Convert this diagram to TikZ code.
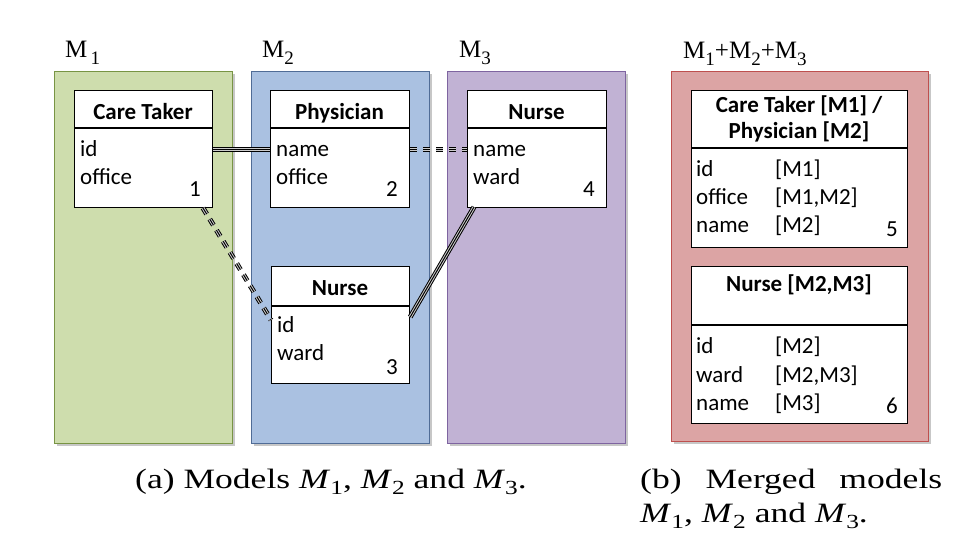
\documentclass[tikz,border=0pt]{standalone}
\usepackage{fontspec}
\setmainfont{Liberation Serif}
\newfontfamily\calfont{Carlito}
\usetikzlibrary{calc}
\definecolor{gfill}{RGB}{206,221,173}
\definecolor{gdraw}{RGB}{120,148,68}
\definecolor{bfill}{RGB}{170,193,225}
\definecolor{bdraw}{RGB}{80,108,150}
\definecolor{pfill}{RGB}{193,178,212}
\definecolor{pdraw}{RGB}{126,100,160}
\definecolor{rfill}{RGB}{220,164,164}
\definecolor{rdraw}{RGB}{190,80,78}
\newcommand\Msub[1]{M\raisebox{-0.3em}{\fontsize{19}{20}\selectfont #1}}
\newcommand\Mit[1]{\textit{M}\raisebox{-0.22em}{\fontsize{20}{20}\selectfont #1}}
\begin{document}
\begin{tikzpicture}[x=1pt,y=-1pt,
  model/.style={draw, line width=1.1pt, rectangle, anchor=north west, inner sep=0pt,
    minimum width=178pt, minimum height=372pt},
  shadowed/.style={preaction={fill=black!22, transform canvas={xshift=2.5pt,yshift=-2.5pt}}},
  cls/.style={draw=black, fill=white, line width=1.2pt, rectangle, anchor=north west, inner sep=0pt},
  attr/.style={anchor=base west, inner sep=0pt, font=\calfont\fontsize{23}{26}\selectfont},
  num/.style={anchor=base east, inner sep=0pt, font=\calfont\fontsize{23}{26}\selectfont},
  head/.style={anchor=base, inner sep=0pt, font=\calfont\bfseries\fontsize{23}{26}\selectfont},
  mlabel/.style={anchor=base west, inner sep=0pt, font=\fontsize{25}{28}\selectfont},
  captext/.style={anchor=base west, inner sep=0pt, font=\fontsize{28}{32}\selectfont},
  triple/.style={line width=5pt, black, postaction={draw, black!20, line width=3pt}, postaction={draw, black, line width=1pt}},
  triplesolid/.style={triple},
  tripledash/.style={triple, dash pattern=on 7pt off 6pt}
]
\useasboundingbox (0,0) rectangle (969,542);

% model frames
\node[model, shadowed, fill=gfill, draw=gdraw] (m1) at (54,71) {};
\node[model, shadowed, fill=bfill, draw=bdraw] (m2) at (251,71) {};
\node[model, shadowed, fill=pfill, draw=pdraw] (m3) at (447,71) {};
\node[model, shadowed, fill=rfill, draw=rdraw, minimum width=257pt, minimum height=370pt] (mm) at (671,71) {};

% model labels
\node[mlabel] (l1) at (65,57) {\Msub{\,1}};
\node[mlabel] (l2) at (262,57) {\Msub{2}};
\node[mlabel] (l3) at (459,57) {\Msub{3}};
\node[mlabel] (lm) at (683,58) {\Msub{1}+\Msub{2}+\Msub{3}};

% class 1
\node[cls, minimum width=138pt, minimum height=117pt] (c1) at (74,90) {};
\draw[line width=1.2pt] ($(c1.north west)+(0,38)$) -- ($(c1.north east)+(0,38)$);
\node[head] (c1h) at (143,119) {Care Taker};
\node[attr] (c1a) at (80,156) {id};
\node[attr] (c1b) at (80,184) {office};
\node[num] (c1n) at (201,196) {1};

% class 2
\node[cls, minimum width=139pt, minimum height=117pt] (c2) at (270,90) {};
\draw[line width=1.2pt] ($(c2.north west)+(0,38)$) -- ($(c2.north east)+(0,38)$);
\node[head] (c2h) at (339.5,119) {Physician};
\node[attr] (c2a) at (276,156) {name};
\node[attr] (c2b) at (276,184) {office};
\node[num] (c2n) at (398,196) {2};

% class 4 (Nurse M3)
\node[cls, minimum width=139pt, minimum height=117pt] (c4) at (467,90) {};
\draw[line width=1.2pt] ($(c4.north west)+(0,38)$) -- ($(c4.north east)+(0,38)$);
\node[head] (c4h) at (536.5,119) {Nurse};
\node[attr] (c4a) at (473,156) {name};
\node[attr] (c4b) at (473,184) {ward};
\node[num] (c4n) at (595,196) {4};

% class 3 (Nurse M2)
\node[cls, minimum width=138pt, minimum height=117pt] (c3) at (271,266) {};
\draw[line width=1.2pt] ($(c3.north west)+(0,40)$) -- ($(c3.north east)+(0,40)$);
\node[head] (c3h) at (340,295) {Nurse};
\node[attr] (c3a) at (277,332) {id};
\node[attr] (c3b) at (277,360) {ward};
\node[num] (c3n) at (398,374) {3};

% merged class 5
\node[cls, minimum width=216pt, minimum height=157pt] (c5) at (691,90) {};
\draw[line width=1.2pt] ($(c5.north west)+(0,58)$) -- ($(c5.north east)+(0,58)$);
\node[head] (c5h1) at (799,112) {Care Taker [M1] /};
\node[head] (c5h2) at (799,138) {Physician [M2]};
\node[attr] (c5a) at (696,176) {id};
\node[attr] (c5b) at (696,204) {office};
\node[attr] (c5c) at (696,232) {name};
\node[attr] (c5av) at (775,176) {[M1]};
\node[attr] (c5bv) at (775,204) {[M1,M2]};
\node[attr] (c5cv) at (775,232) {[M2]};
\node[num] (c5n) at (898,236) {5};

% merged class 6
\node[cls, minimum width=216pt, minimum height=157pt] (c6) at (691,266) {};
\draw[line width=1.2pt] ($(c6.north west)+(0,59)$) -- ($(c6.north east)+(0,59)$);
\node[head] (c6h) at (799,291) {Nurse [M2,M3]};
\node[attr] (c6a) at (696,353) {id};
\node[attr] (c6b) at (696,382) {ward};
\node[attr] (c6c) at (696,410) {name};
\node[attr] (c6av) at (775,353) {[M2]};
\node[attr] (c6bv) at (775,382) {[M2,M3]};
\node[attr] (c6cv) at (775,410) {[M3]};
\node[num] (c6n) at (898,413) {6};

% connectors
\coordinate (p1) at (c1.east |- 0,149);
\coordinate (p2) at (c2.west |- 0,149);
\coordinate (p3) at (c2.east |- 0,149);
\coordinate (p4) at (c4.west |- 0,149);
\coordinate (p5) at (203,208);
\coordinate (p6) at (c3.west |- 0,320);
\coordinate (p7) at (c3.east |- 0,317);
\coordinate (p8) at (474,207);
\draw[triplesolid] (p1) -- (p2);
\draw[tripledash] (p3) -- (p4);
\draw[tripledash] (p5) -- (p6);
\draw[triplesolid] (p7) -- (p8);

% captions
\node[captext] (capa) at (135,488) {\scalebox{1.27}[1]{(a) Models \Mit{1}, \Mit{2} and \Mit{3}.}};
\node[captext, text width=302pt, align=left] (capb1) at (640,488) {\scalebox{1.27}[1]{(b)}\hfill \scalebox{1.27}[1]{Merged}\hfill \scalebox{1.27}[1]{models}};
\node[captext] (capb2) at (640,522) {\scalebox{1.27}[1]{\Mit{1}, \Mit{2} and \Mit{3}.}};
\end{tikzpicture}
\end{document}
